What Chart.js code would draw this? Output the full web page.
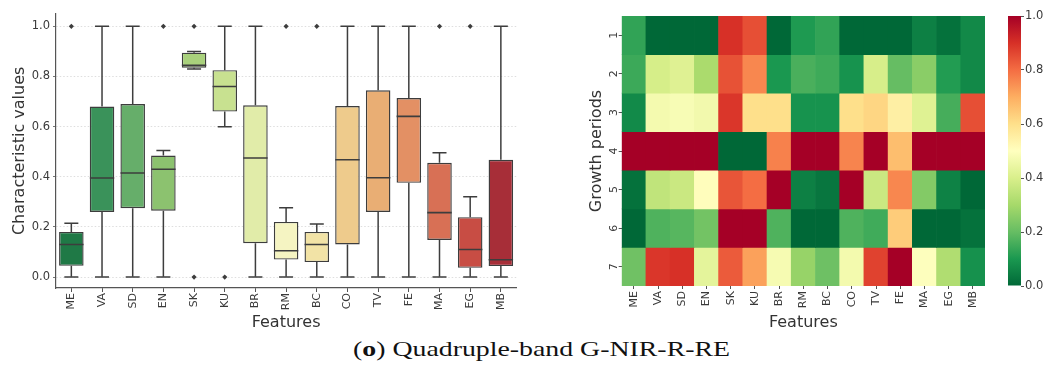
<!DOCTYPE html>
<html>
<head>
<meta charset="utf-8">
<script src="https://cdn.jsdelivr.net/npm/chart.js@4"></script>
<style>
  html, body { margin: 0; padding: 0; background: #fff; }
  body { width: 1045px; height: 367px; position: relative; overflow: hidden; }
  canvas { position: absolute; top: 0; }
  #caption {
    position: absolute; left: 353px; top: 337px; white-space: nowrap;
    font-family: "Liberation Serif", serif; font-size: 21.5px;
    line-height: 24px; color: #111; transform-origin: 0 0;
  }
</style>
</head>
<body>
<canvas id="boxChart" width="530" height="332" style="left:0px"></canvas>
<canvas id="heatChart" width="435" height="332" style="left:560px"></canvas>
<canvas id="cbarChart" width="45" height="332" style="left:1000px"></canvas>
<div id="caption">(<b>o</b>) Quadruple-band G-NIR-R-RE</div>
<script>
// categories
const features = ['ME', 'VA', 'SD', 'EN', 'SK', 'KU', 'BR', 'RM', 'BC', 'CO', 'TV', 'FE', 'MA', 'EG', 'MB'];
const periods = [1, 2, 3, 4, 5, 6, 7];
const valueTicks = [0, 0.2, 0.4, 0.6, 0.8, 1.0];

// box plot summary, one value per feature
const whiskerLow  = [0, 0, 0, 0, 0.83, 0.6, 0, 0, 0, 0, 0, 0, 0, 0, 0];
const q1          = [0.045, 0.26, 0.275, 0.265, 0.835, 0.66, 0.135, 0.07, 0.06, 0.13, 0.26, 0.376, 0.148, 0.037, 0.044];
const median      = [0.13, 0.395, 0.415, 0.43, 0.845, 0.76, 0.475, 0.105, 0.13, 0.468, 0.396, 0.641, 0.257, 0.11, 0.069];
const q3          = [0.18, 0.68, 0.69, 0.485, 0.895, 0.825, 0.685, 0.22, 0.18, 0.682, 0.745, 0.714, 0.456, 0.239, 0.468];
const whiskerHigh = [0.215, 1, 1, 0.505, 0.9, 1, 1, 0.277, 0.212, 1, 1, 1, 0.496, 0.32, 1];
const outliers = [['ME', 1], ['EN', 1], ['SK', 1], ['SK', 0], ['KU', 0], ['RM', 1], ['BC', 1], ['MA', 1], ['EG', 1]];

// heatmap values, one row per growth period
const period1 = [0.13, 0, 0, 0, 0.9, 0.85, 0, 0.105, 0.13, 0, 0, 0, 0.05, 0.02, 0.069];
const period2 = [0.145, 0.395, 0.415, 0.31, 0.845, 0.76, 0.1, 0.163, 0.148, 0.09, 0.396, 0.2, 0.257, 0.11, 0.068];
const period3 = [0.07, 0.47, 0.48, 0.465, 0.89, 0.6, 0.6, 0.09, 0.09, 0.6, 0.62, 0.552, 0.416, 0.158, 0.85];
const period4 = [1, 1, 1, 1, 0, 0, 0.77, 1, 1, 0.764, 1, 0.668, 1, 1, 1];
const period5 = [0.02, 0.35, 0.37, 0.505, 0.84, 0.8, 1, 0.05, 0.03, 1, 0.37, 0.76, 0.246, 0.054, 0];
const period6 = [0, 0.17, 0.18, 0.22, 1, 1, 0.17, 0, 0, 0.17, 0.15, 0.641, 0, 0, 0.02];
const period7 = [0.215, 0.89, 0.9, 0.43, 0.83, 0.72, 0.475, 0.277, 0.212, 0.468, 0.87, 1, 0.496, 0.32, 0.086];
const heatRows = [period1, period2, period3, period4, period5, period6, period7];

// colours
const boxColors = ['#1f7946', '#3a925a', '#66ae6a', '#8cc26f', '#a9d17c', '#c8e190', '#e1eca9', '#f5f4c2',
                   '#f2e3a6', '#eecb8c', '#e9ae74', '#e39064', '#d87055', '#c84d44', '#a72e38'];
const cmapStops = ['#006837', '#1a9850', '#66bd63', '#a6d96a', '#d9ef8b', '#ffffbf',
                   '#fee08b', '#fdae61', '#f46d43', '#d73027', '#a50026'];
const lineColor = '#3d3d3d';
const axisColor = '#555555';

function hexToRgb(h) {
  return [1, 3, 5].map(i => parseInt(h.slice(i, i + 2), 16));
}

// RdYlGn reversed
function cmap(v) {
  const t = Math.min(1, Math.max(0, v)) * (cmapStops.length - 1);
  const i = Math.min(Math.floor(t), cmapStops.length - 2);
  const f = t - i;
  const a = hexToRgb(cmapStops[i]);
  const b = hexToRgb(cmapStops[i + 1]);
  return 'rgb(' + a.map((c, k) => Math.round(c + (b[k] - c) * f)).join(',') + ')';
}

Chart.defaults.font.family = '"DejaVu Sans", sans-serif';
Chart.defaults.color = '#3a3a3a';
Chart.defaults.plugins.legend.display = false;
Chart.defaults.plugins.tooltip.enabled = false;

const fixedTicks = list => scale => { scale.ticks = list.map(v => ({ value: v })); };

// ---- box plot ----
new Chart(document.getElementById('boxChart'), {
  type: 'bar',
  data: {
    labels: features,
    datasets: [
      { type: 'line', data: median, showLine: false, pointStyle: 'line', pointRadius: 12.2,
        pointBorderWidth: 1.6, pointBorderColor: lineColor, order: 0 },
      { type: 'line', data: outliers.map(o => ({ x: o[0], y: o[1] })), showLine: false,
        pointStyle: 'rectRot', pointRadius: 2.6, pointBackgroundColor: lineColor,
        pointBorderColor: lineColor, pointBorderWidth: 0, order: 0 },
      { type: 'line', data: whiskerLow, showLine: false, pointStyle: 'line', pointRadius: 7,
        pointBorderWidth: 1.5, pointBorderColor: lineColor, order: 0 },
      { type: 'line', data: whiskerHigh, showLine: false, pointStyle: 'line', pointRadius: 7,
        pointBorderWidth: 1.5, pointBorderColor: lineColor, order: 0 },
      { data: features.map((f, i) => [q1[i], q3[i]]), backgroundColor: boxColors,
        borderColor: lineColor, borderWidth: 1.4, borderSkipped: false,
        barPercentage: 0.8, categoryPercentage: 1, grouped: false, order: 1 },
      { data: features.map((f, i) => [whiskerLow[i], q1[i]]), backgroundColor: lineColor,
        barThickness: 1.5, grouped: false, inflateAmount: 0, order: 2 },
      { data: features.map((f, i) => [q3[i], whiskerHigh[i]]), backgroundColor: lineColor,
        barThickness: 1.5, grouped: false, inflateAmount: 0, order: 2 }
    ]
  },
  options: {
    responsive: false,
    animation: false,
    events: [],
    layout: { padding: { left: 10, top: 11, right: 10, bottom: 0 } },
    scales: {
      x: {
        offset: true,
        grid: { display: true, drawOnChartArea: false, offset: false, tickLength: 4, tickColor: axisColor },
        border: { display: true, color: axisColor, width: 1.2 },
        ticks: { autoSkip: false, minRotation: 90, maxRotation: 90, padding: 1, font: { size: 11 } },
        title: { display: true, text: 'Features', font: { size: 16 }, padding: 0, color: '#333' },
        afterFit: s => { s.height = 44; }
      },
      y: {
        min: -0.0435, max: 1.05,
        afterBuildTicks: fixedTicks(valueTicks),
        grid: { color: '#d6d6d6', lineWidth: 0.8, tickLength: 3, tickColor: axisColor },
        border: { display: true, color: axisColor, width: 1.2, dash: [1.5, 2] },
        ticks: { padding: 3, font: { size: 11.5 }, callback: v => v.toFixed(1) },
        title: { display: true, text: 'Characteristic values', font: { size: 16 }, padding: 0, color: '#333' },
        afterFit: s => { s.width = 46; }
      }
    }
  }
});

// ---- heatmap ----
new Chart(document.getElementById('heatChart'), {
  type: 'bar',
  data: {
    labels: features,
    datasets: heatRows.map((row, r) => ({
      data: row.map(() => [periods[r] - 0.5, periods[r] + 0.5]),
      backgroundColor: row.map(cmap),
      borderWidth: 0,
      barPercentage: 1,
      categoryPercentage: 1,
      grouped: false
    }))
  },
  options: {
    responsive: false,
    animation: false,
    events: [],
    layout: { padding: { left: 27, top: 16, right: 10, bottom: 0 } },
    scales: {
      x: {
        grid: { display: true, drawOnChartArea: false, offset: false, tickLength: 3, tickColor: axisColor },
        border: { display: false },
        ticks: { autoSkip: false, minRotation: 90, maxRotation: 90, padding: 2, font: { size: 11 } },
        title: { display: true, text: 'Features', font: { size: 16 }, padding: 0, color: '#333' },
        afterFit: s => { s.height = 46; }
      },
      y: {
        reverse: true, min: 0.5, max: 7.5,
        afterBuildTicks: fixedTicks(periods),
        grid: { display: true, drawOnChartArea: false, tickLength: 3, tickColor: axisColor },
        border: { display: false },
        ticks: { minRotation: 90, maxRotation: 90, crossAlign: 'center', padding: 1.5, font: { size: 11 },
                 callback: v => String(v) },
        title: { display: true, text: 'Growth periods', font: { size: 16 }, padding: 0, color: '#333' },
        afterFit: s => { s.width = 34.7; }
      }
    }
  }
});

// ---- colour bar ----
new Chart(document.getElementById('cbarChart'), {
  type: 'bar',
  data: {
    labels: [''],
    datasets: [{
      data: [[valueTicks[0], valueTicks[valueTicks.length - 1]]],
      backgroundColor: c => {
        const y = c.chart.scales.y;
        if (!y || !c.chart.chartArea) return cmapStops[0];
        const g = c.chart.ctx.createLinearGradient(0, y.getPixelForValue(0), 0, y.getPixelForValue(1));
        cmapStops.forEach((col, i) => g.addColorStop(i / (cmapStops.length - 1), col));
        return g;
      },
      borderWidth: 0,
      inflateAmount: 0,
      barPercentage: 1,
      categoryPercentage: 1
    }]
  },
  options: {
    responsive: false,
    animation: false,
    events: [],
    layout: { padding: { left: 8, top: 16, right: 0, bottom: 46 } },
    scales: {
      x: { display: false },
      y: {
        position: 'right', min: 0, max: 1,
        afterBuildTicks: fixedTicks(valueTicks),
        grid: { display: true, drawOnChartArea: false, tickLength: 3, tickColor: axisColor },
        border: { display: false },
        ticks: { padding: 1, font: { size: 11.5 }, callback: v => v.toFixed(1) },
        afterFit: s => { s.width = 24; }
      }
    }
  }
});

// stretch the caption to the width it has in the figure
const cap = document.getElementById('caption');
cap.style.transform = 'scaleX(' + (377 / cap.getBoundingClientRect().width) + ')';
</script>
</body>
</html>
